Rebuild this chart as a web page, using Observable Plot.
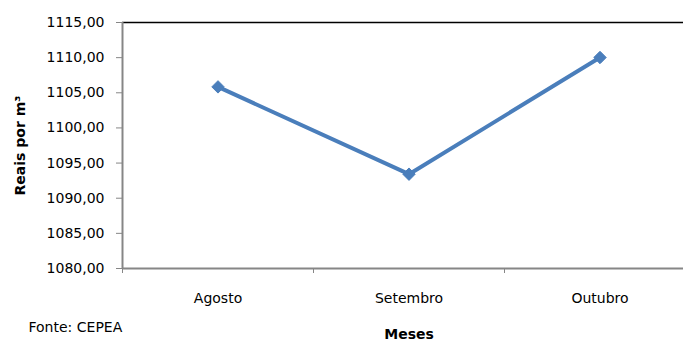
<!DOCTYPE html>
<html>
<head>
<meta charset="utf-8">
<script src="https://cdn.jsdelivr.net/npm/d3@7"></script>
<script src="https://cdn.jsdelivr.net/npm/@observablehq/plot@0.6"></script>
<style>
  html, body { margin: 0; padding: 0; background: #fff; }
</style>
</head>
<body>
<div id="chart"></div>
<script>
const months = ["Agosto", "Setembro", "Outubro"];
const prices = [1105.84, 1093.42, 1110.02];
const yTicks = [1080, 1085, 1090, 1095, 1100, 1105, 1110, 1115];
const yLabel = "Reais por m³";
const xLabel = "Meses";
const source = "Fonte: CEPEA";

const data = months.map((m, i) => ({ i, month: m, value: prices[i] }));
const fmt = d => d.toFixed(2).replace(".", ",");
const axisGray = "#868686";
const blue = "#4a7ebb";

const chart = Plot.plot({
  width: 683,
  height: 342,
  marginLeft: 122,
  marginRight: 0,
  marginTop: 22,
  marginBottom: 74,
  style: { fontFamily: "DejaVu Sans", fontSize: "14px", color: "#000", background: "#fff" },
  x: { type: "linear", domain: [-0.5, 2.5], range: [122, 695] },
  y: { domain: [1080, 1115] },
  marks: [
    Plot.ruleY([1115], { stroke: "#000", strokeWidth: 1.5 }),
    Plot.ruleY([1080], { stroke: axisGray, strokeWidth: 2 }),
    Plot.ruleX([-0.5], { stroke: axisGray, strokeWidth: 2 }),
    Plot.axisY({ ticks: yTicks, tickFormat: fmt, tickSize: 6, tickPadding: 12, stroke: axisGray, label: null, fontSize: 14 }),
    Plot.axisX({ ticks: [-0.5, 0.5, 1.5, 2.5], tickSize: 5, stroke: axisGray, tickFormat: () => "", label: null }),
    Plot.axisX({ ticks: [0, 1, 2], tickSize: 0, tickPadding: 25, tickFormat: i => months[i], label: null, fontSize: 14 }),
    Plot.line(data, { x: "i", y: "value", stroke: blue, strokeWidth: 4 }),
    Plot.dot(data, { x: "i", y: "value", symbol: "diamond2", r: 5.6, fill: blue, stroke: blue, strokeWidth: 1 }),
    Plot.text([yLabel], { frameAnchor: "left", dx: -102, rotate: -90, textAnchor: "middle", text: d => d, fontWeight: "bold", fontSize: 14 }),
    Plot.text([xLabel], { x: [1], frameAnchor: "bottom", dy: 70, text: d => d, fontWeight: "bold", fontSize: 14 }),
    Plot.text([source], { frameAnchor: "bottom-left", dx: -94, dy: 63, textAnchor: "start", text: d => d, fontSize: 14 })
  ]
});
document.getElementById("chart").appendChild(chart);
</script>
</body>
</html>
